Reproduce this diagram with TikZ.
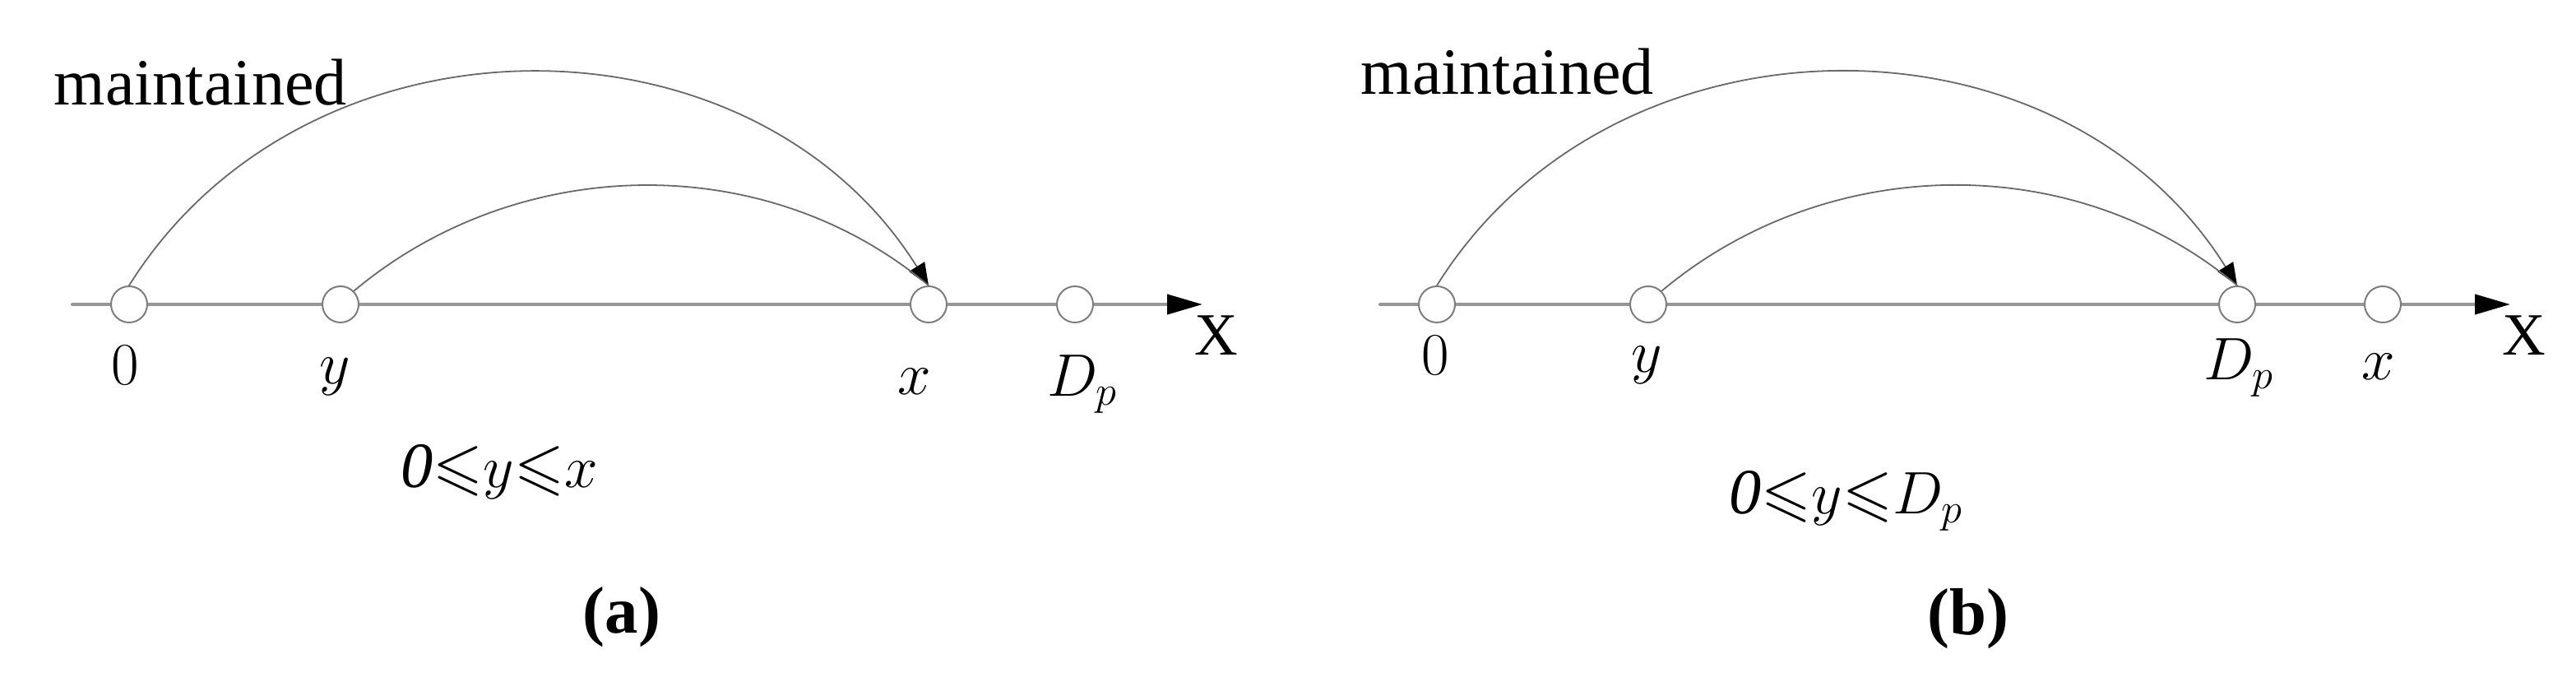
\documentclass[tikz,border=0pt]{standalone}
\usepackage{amssymb}
\usepackage{fontspec}
\setmainfont{Liberation Serif}
\usetikzlibrary{arrows.meta}
\definecolor{axisgray}{RGB}{150,150,150}
\definecolor{pointgray}{RGB}{125,125,125}
\definecolor{arcgray}{RGB}{105,105,105}
\newcommand{\labelsize}{\fontsize{20.74}{24}\selectfont}

\begin{document}
\begin{tikzpicture}[line cap=round]
% Styles
\tikzstyle{axis line}=[draw=axisgray, line width=0.04cm, -{Triangle[length=0.43cm,width=0.24cm,color=black]}]
\tikzstyle{point}=[circle, draw=pointgray, fill=white, line width=0.02cm, minimum size=0.44cm, inner sep=0pt]
\tikzstyle{jump}=[draw=arcgray, line width=0.018cm]
\tikzstyle{jump tip}=[-{Triangle[length=0.27cm,width=0.22cm,color=black]}]
\tikzstyle{tick label}=[anchor=base, inner sep=0pt, font=\labelsize]
\tikzstyle{range text}=[anchor=base west, inner sep=0pt, font=\fontsize{22.3}{26}\selectfont]
\tikzstyle{note}=[anchor=base west, inner sep=0pt, font=\fontsize{22.8}{27}\selectfont]
\tikzstyle{caption}=[anchor=base, inner sep=0pt, font=\fontsize{23}{27}\selectfont\bfseries]

\useasboundingbox (0,-4.59) rectangle (31.32,3.70);

%panel (a)
\coordinate (aL) at (0.88,0);
\coordinate (aR) at (14.62,0);
\draw[axis line] (aL) -- (aR);

% draw the nodes
\foreach \x/\n in {1.57/a0,4.14/ay,11.29/ax,13.07/aD} {
\node[point] (\n) at (\x,0) {};
}

%jumps
\draw[jump,jump tip] (a0.north) to[out=58,in=122,looseness=1.07] (ax.north);
\draw[jump] (ay.north east) to[out=40,in=140,looseness=0.95] (ax.north);

\node[tick label] (a0l) at (1.52,-0.98) {$0$};
\node[tick label] (ayl) at (4.07,-0.97) {$y$};
\node[tick label] (axl) at (11.12,-1.10) {$x$};
\node[tick label] (aDl) at (13.16,-1.12) {$D_p$};
\node[tick label] (aX) at (14.79,-0.62) {X};
\node[note] (amaint) at (0.65,2.42) {maintained};
\node[range text] (arange) at (4.87,-2.23) {$\mathit{0}\mathord{\leqslant}y\mathord{\leqslant}x$};
\node[caption] (acap) at (7.56,-4.00) {(a)};

%panel (b)
\begin{scope}[xshift=15.9cm]
\coordinate (bL) at (0.88,0);
\coordinate (bR) at (14.62,0);
\draw[axis line] (bL) -- (bR);

% draw the nodes
\foreach \x/\n in {1.57/b0,4.14/by,11.30/bD,13.07/bx} {
\node[point] (\n) at (\x,0) {};
}

%jumps
\draw[jump,jump tip] (b0.north) to[out=58,in=122,looseness=1.07] (bD.north);
\draw[jump] (by.north east) to[out=40,in=140,looseness=0.95] (bD.north);

\node[tick label] (b0l) at (1.55,-0.86) {$0$};
\node[tick label] (byl) at (4.12,-0.83) {$y$};
\node[tick label] (bDl) at (11.32,-0.92) {$D_p$};
\node[tick label] (bxl) at (13.02,-0.92) {$x$};
\node[tick label] (bX) at (14.79,-0.62) {X};
\node[note] (bmaint) at (0.64,2.55) {maintained};
\node[range text] (brange) at (5.12,-2.55) {$\mathit{0}\mathord{\leqslant}y\mathord{\leqslant}D_p$};
\node[caption] (bcap) at (8.03,-4.02) {(b)};
\end{scope}

\end{tikzpicture}
\end{document}
